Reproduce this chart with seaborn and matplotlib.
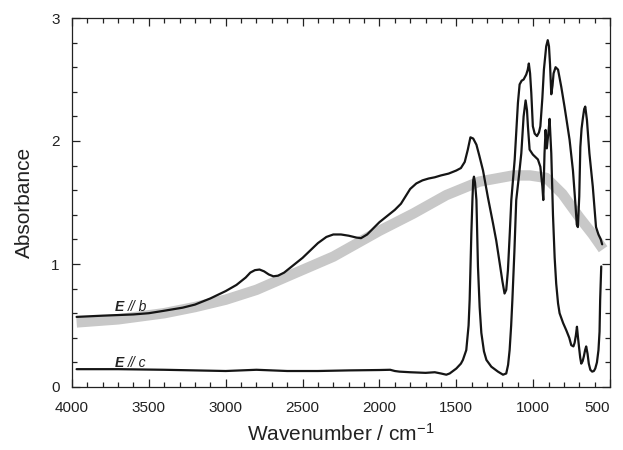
import numpy as np
import pandas as pd
import matplotlib
matplotlib.use("Agg")
import matplotlib.pyplot as plt
from matplotlib.ticker import MultipleLocator
import seaborn as sns

# E // b spectrum
b_wn = [3970, 3800, 3600, 3500, 3400, 3280, 3200, 3100, 3000, 2930, 2870, 2840, 2810,
        2780, 2750, 2720, 2690, 2660, 2620, 2560, 2500, 2450, 2400, 2345, 2300, 2250,
        2200, 2150, 2120, 2080, 2040, 2000, 1950, 1900, 1860, 1830, 1800, 1760, 1720,
        1680, 1640, 1600, 1550, 1500, 1470, 1445, 1425, 1408, 1390, 1369, 1350, 1326,
        1294, 1261, 1240, 1218, 1200, 1186, 1175, 1164, 1152, 1142, 1120, 1099, 1088,
        1075, 1062, 1045, 1035, 1028, 1020, 1012, 1002, 990, 975, 962, 953, 940, 930,
        915, 905, 897, 890, 882, 874, 867, 854, 838, 817, 796, 780, 763, 741, 724, 716,
        709, 700, 693, 685, 677, 668, 661, 650, 634, 612, 591, 575, 560, 551]
b_abs = [0.57, 0.58, 0.59, 0.60, 0.62, 0.645, 0.67, 0.72, 0.78, 0.83, 0.89, 0.93, 0.95,
         0.955, 0.94, 0.915, 0.90, 0.905, 0.93, 0.99, 1.05, 1.11, 1.17, 1.22, 1.24, 1.24,
         1.23, 1.215, 1.21, 1.24, 1.29, 1.34, 1.39, 1.44, 1.49, 1.55, 1.61, 1.655, 1.68,
         1.695, 1.705, 1.72, 1.735, 1.76, 1.78, 1.83, 1.93, 2.03, 2.02, 1.97, 1.88, 1.76,
         1.54, 1.33, 1.19, 1.01, 0.86, 0.76, 0.79, 0.95, 1.25, 1.52, 1.85, 2.31, 2.46,
         2.49, 2.50, 2.54, 2.58, 2.63, 2.55, 2.39, 2.12, 2.06, 2.04, 2.07, 2.12, 2.35, 2.58,
         2.77, 2.82, 2.77, 2.62, 2.38, 2.45, 2.55, 2.60, 2.58, 2.44, 2.28, 2.15, 2.01, 1.76, 1.47, 1.32,
         1.30, 1.55, 1.95, 2.10, 2.18, 2.26, 2.28, 2.17, 1.90, 1.63, 1.30, 1.24, 1.20, 1.16]

# E // c spectrum
c_wn = [3970, 3700, 3400, 3200, 3000, 2800, 2600, 2400, 2200, 2000, 1930, 1900, 1870,
        1800, 1700, 1640, 1600, 1565, 1543, 1500, 1470, 1457, 1435, 1420, 1413, 1402,
        1395, 1390, 1385, 1378, 1369, 1359, 1348, 1337, 1320, 1304, 1272, 1229, 1196,
        1175, 1163, 1153, 1143, 1135, 1122, 1110, 1092, 1077, 1062, 1049, 1040, 1034,
        1023, 1002, 969, 953, 940, 934, 926, 919, 911, 899, 893, 882, 871, 860, 850,
        838, 828, 805, 784, 765, 752, 738, 730, 722, 715, 708, 702, 694, 687, 678, 670,
        662, 655, 646, 638, 628, 616, 605, 596, 585, 575, 568, 564, 557]
c_abs = [0.145, 0.145, 0.14, 0.135, 0.13, 0.14, 0.13, 0.13, 0.135, 0.138, 0.14, 0.13, 0.125,
         0.12, 0.115, 0.12, 0.11, 0.10, 0.11, 0.15, 0.19, 0.22, 0.30, 0.50, 0.71, 1.25,
         1.52, 1.68, 1.71, 1.66, 1.52, 0.98, 0.65, 0.44, 0.29, 0.22, 0.165, 0.125, 0.10,
         0.11, 0.18, 0.30, 0.50, 0.71, 1.10, 1.52, 1.72, 1.90, 2.20, 2.33, 2.25, 2.12,
         1.93, 1.89, 1.85, 1.79, 1.63, 1.52, 1.90, 2.09, 1.94, 2.09, 2.18, 1.90, 1.40, 1.05, 0.84,
         0.68, 0.60, 0.52, 0.46, 0.40, 0.34, 0.33, 0.36, 0.42, 0.49, 0.40, 0.33, 0.24, 0.19, 0.21, 0.25,
         0.30, 0.33, 0.27, 0.19, 0.14, 0.125, 0.13, 0.15, 0.20, 0.30, 0.45, 0.71, 0.98]

# smooth gray background curve
g_wn = [3970, 3700, 3400, 3200, 3000, 2800, 2560, 2300, 2000, 1780, 1565, 1350, 1130,
        1020, 915, 810, 700, 612, 545]
g_abs = [0.525, 0.55, 0.60, 0.65, 0.71, 0.79, 0.92, 1.06, 1.27, 1.41, 1.56, 1.67, 1.72,
         1.72, 1.70, 1.57, 1.38, 1.24, 1.12]

x_ticks = [4000, 3500, 3000, 2500, 2000, 1500, 1000, 500]
y_ticks = [0, 1, 2, 3]

sns.set_style("ticks")
plt.rcParams['font.family'] = ['Liberation Sans', 'DejaVu Sans']
plt.rcParams['mathtext.fontset'] = 'custom'
plt.rcParams['mathtext.rm'] = 'Liberation Sans'
plt.rcParams['mathtext.it'] = 'Liberation Sans:italic'
plt.rcParams['mathtext.bf'] = 'Liberation Sans:bold'

fig = plt.figure(figsize=(6.23, 4.5), dpi=100)
ax = fig.add_axes([72/623, 63/450, 538/623, 369/450])

gdf = pd.DataFrame({"wn": g_wn, "abs": g_abs})
bdf = pd.DataFrame({"wn": b_wn, "abs": b_abs})
cdf = pd.DataFrame({"wn": c_wn, "abs": c_abs})

sns.lineplot(data=gdf, x="wn", y="abs", ax=ax, color="#c8c8c8", lw=7.5,
             sort=False, estimator=None, solid_capstyle="butt")
for df in (bdf, cdf):
    sns.lineplot(data=df, x="wn", y="abs", ax=ax, color="#151515", lw=1.6,
                 sort=False, estimator=None, solid_joinstyle="round")

ax.set_xlim(4000, 500)
ax.set_ylim(0, 3)
ax.set_xticks(x_ticks)
ax.set_xticklabels([str(t) for t in x_ticks])
ax.set_yticks(y_ticks)
ax.set_yticklabels([str(t) for t in y_ticks])
ax.xaxis.set_minor_locator(MultipleLocator(100))
ax.yaxis.set_minor_locator(MultipleLocator(0.2))
ax.tick_params(which="both", direction="in", top=True, right=True, colors="#222222",
               labelcolor="#222222", width=0.9)
ax.tick_params(which="major", length=6, labelsize=11)
ax.tick_params(axis="x", which="major", pad=10)
ax.tick_params(axis="y", which="major", pad=9)
ax.tick_params(which="minor", length=3.5)
ax.get_xticklabels()[-1].set_horizontalalignment("right")
for s in ax.spines.values():
    s.set_linewidth(0.9)
    s.set_color("#222222")

ax.set_xlabel(r"Wavenumber / cm$^{-1}$", fontsize=15, labelpad=6, color="#222222")
ax.set_ylabel("Absorbance", fontsize=15, labelpad=12, color="#222222")

for lab, yy in [("b", 0.615), ("c", 0.16)]:
    ax.text(3720, yy, "E", fontsize=10, fontweight="bold", fontstyle="italic",
            ha="left", va="baseline", color="#222222")
    ax.text(3635, yy, "// " + lab, fontsize=10, fontstyle="italic",
            ha="left", va="baseline", color="#222222")

fig.savefig("out.png", dpi=100)
